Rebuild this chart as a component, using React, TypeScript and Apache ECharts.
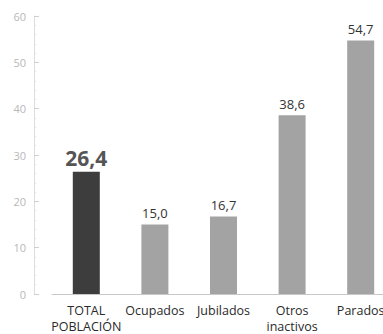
import React, { useEffect, useRef } from "react";
import * as echarts from "echarts";

const categories = ["TOTAL\nPOBLACIÓN", "Ocupados", "Jubilados", "Otros\ninactivos", "Parados"];
const values = [26.4, 15.0, 16.7, 38.6, 54.7];
const yTicks = [0, 10, 20, 30, 40, 50, 60];

export default function App() {
  const ref = useRef<HTMLDivElement>(null);
  useEffect(() => {
    const chart = echarts.init(ref.current!, null, { renderer: "svg" });
    const font = "'Open Sans', 'Noto Sans', sans-serif";
    chart.setOption({
      animation: false,
      backgroundColor: "#ffffff",
      grid: { left: 52, right: 5, top: 16, bottom: 39 },
      xAxis: {
        type: "category",
        data: categories,
        axisLine: { show: true, lineStyle: { color: "#c8c8c8", width: 1 } },
        axisTick: { show: false },
        axisLabel: {
          interval: 0,
          color: "#2a2a2a",
          fontSize: 12.5,
          fontFamily: font,
          margin: 8,
          lineHeight: 16,
        },
      },
      yAxis: {
        type: "value",
        min: yTicks[0],
        max: yTicks[yTicks.length - 1],
        interval: 10,
        offset: 18,
        axisLine: { show: true, lineStyle: { color: "#dddddd", width: 1 } },
        axisTick: { show: true, inside: true, length: 5, lineStyle: { color: "#cfcfcf" } },
        minorTick: { show: true, splitNumber: 5, length: 2, lineStyle: { color: "#e0e0e0" } },
        splitLine: { show: false },
        axisLabel: {
          color: "#b8b8b8",
          fontSize: 11,
          fontFamily: font,
          margin: 8,
        },
      },
      series: [
        {
          type: "bar",
          barWidth: 27,
          data: values.map((v, i) => ({
            value: v,
            itemStyle: { color: i === 0 ? "#3d3d3d" : "#a3a3a3" },
            label: i === 0
              ? { fontSize: 21, fontWeight: "bold", color: "#555555", distance: 3 }
              : { fontSize: 13, color: "#333333", distance: 5 },
          })),
          label: {
            show: true,
            position: "top",
            fontFamily: font,
            formatter: (p: any) => p.value.toFixed(1).replace(".", ","),
          },
        },
      ],
    });
    return () => chart.dispose();
  }, []);
  return (
    <div style={{ width: 383, height: 334, position: "fixed", left: 0, top: 0, overflow: "hidden" }}>
      <div ref={ref} style={{ width: 400, height: 334 }} />
    </div>
  );
}
